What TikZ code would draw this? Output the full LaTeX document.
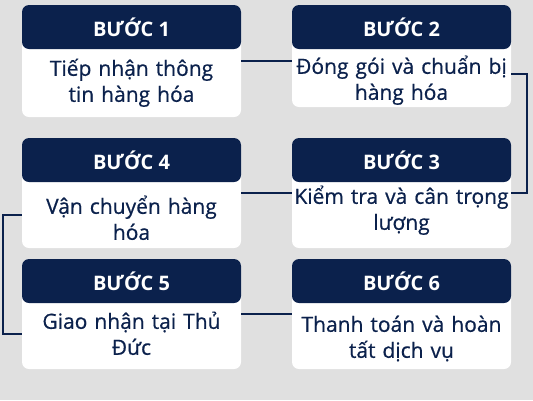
\documentclass[tikz,border=0pt]{standalone}
\usepackage{fontspec}
\setmainfont{Open Sans}
\newfontfamily\stepfont{Open Sans}[FakeBold=0.6]
\usetikzlibrary{positioning}
\definecolor{navy}{RGB}{11,33,76}
\definecolor{bggray}{RGB}{224,224,224}
\tikzset{
  stepbody/.style={fill=white,rounded corners=7pt,minimum width=219pt,inner sep=0pt},
  stephead/.style={fill=navy,text=white,rounded corners=7pt,minimum width=219pt,minimum height=44pt,inner sep=0pt,font=\bfseries\fontsize{20}{20}\selectfont},
  steptext/.style={text=navy,align=center,text width=219pt,inner sep=0pt,anchor=base,font=\stepfont\fontsize{21}{26}\selectfont},
  link/.style={draw=navy,line width=1.6pt}
}
\begin{document}
\begin{tikzpicture}[x=1pt,y=-1pt]
\fill[bggray] (0,0) rectangle (533,400);
\useasboundingbox (0,0) rectangle (533,400);
\node(t1) at (131.5,61)[stepbody,minimum height=112pt]  {};
\node(t2) at (401.5,56)[stepbody,minimum height=102pt]  {};
\node(t3) at (401.5,193)[stepbody,minimum height=110pt] {};
\node(t4) at (131.5,193)[stepbody,minimum height=110pt] {};
\node(t5) at (131.5,314)[stepbody,minimum height=110pt] {};
\node(t6) at (401.5,314)[stepbody,minimum height=110pt] {};
\node(h1) at (t1.north)[stephead,anchor=north] {BƯỚC 1};
\node(h2) at (t2.north)[stephead,anchor=north] {BƯỚC 2};
\node(h3) at (t3.north)[stephead,anchor=north] {BƯỚC 3};
\node(h4) at (t4.north)[stephead,anchor=north] {BƯỚC 4};
\node(h5) at (t5.north)[stephead,anchor=north] {BƯỚC 5};
\node(h6) at (t6.north)[stephead,anchor=north] {BƯỚC 6};
\node(x1) at ([yshift=-71pt]t1.north)[steptext] {Tiếp nhận thông\\tin hàng hóa};
\node(x2) at ([yshift=-69pt]t2.north)[steptext] {Đóng gói và chuẩn bị\\hàng hóa};
\node(x3) at ([yshift=-66pt]t3.north)[steptext] {Kiểm tra và cân trọng\\lượng};
\node(x4) at ([yshift=-76pt]t4.north)[steptext] {Vận chuyển hàng\\hóa};
\node(x5) at ([yshift=-70pt]t5.north)[steptext] {Giao nhận tại Thủ\\Đức};
\node(x6) at ([yshift=-73pt]t6.north)[steptext] {Thanh toán và hoàn\\tất dịch vụ};
\draw[link] (t1.east) -- (t1.east -| t2.west);
\draw[link] ([yshift=-18pt]t2.east) -- ++(16,0) |- (t3.east);
\draw[link] (t3.west) -- (t3.west -| t4.east);
\draw[link] ([yshift=-22pt]t4.west) -- ++(-19,0) |- ([yshift=-20pt]t5.west);
\draw[link] (t5.east) -- (t5.east -| t6.west);
\end{tikzpicture}
\end{document}
